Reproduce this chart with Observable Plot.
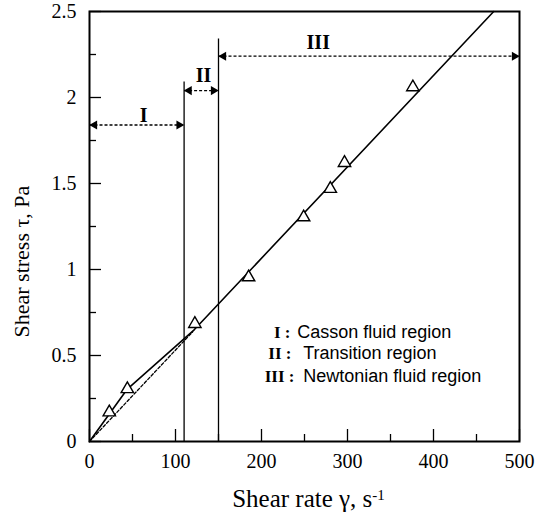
<!DOCTYPE html>
<html>
<head>
<meta charset="utf-8">
<script src="https://cdn.jsdelivr.net/npm/d3@7"></script>
<script src="https://cdn.jsdelivr.net/npm/@observablehq/plot@0.6"></script>
<style>
  html, body { margin: 0; padding: 0; background: #fff; }
</style>
</head>
<body>
<div id="chart"></div>
<script>
// Measured data points (triangles)
const shearRate = [23, 44, 122.5, 185, 249, 280, 296.5, 376];
const shearStress = [0.17, 0.305, 0.684, 0.955, 1.304, 1.469, 1.62, 2.06];

// Fitted solid curve (Casson -> Newtonian)
const fitRate = [0, 44, 122, 470];
const fitStress = [0, 0.305, 0.651, 2.5];

// Dashed Newtonian extension to origin
const dashRate = [0, 120];
const dashStress = [0, 0.638];

// Region boundaries
const boundaryRate = [110, 150];
const boundaryTop = [2.09, 2.34];

// Region arrows
const regionNames = ["I", "II", "III"];
const regionStart = [0, 110, 150];
const regionEnd = [110, 150, 500];
const regionArrowY = [1.84, 2.04, 2.24];
const regionLabelX = [63, 132.6, 266];
const regionLabelY = [1.895, 2.128, 2.32];

// Legend annotation
const legendNumerals = ["I :", "II :", "III :"];
const legendTexts = ["Casson fluid region", "Transition region", "Newtonian fluid region"];
const legendNumeralX = [233.7, 234.9, 238.4];
const legendTextX = [241.5, 248.5, 248.5];
const legendY = [0.634, 0.512, 0.378];

// Ticks
const xMajor = [0, 100, 200, 300, 400, 500];
const xMinor = [50, 150, 250, 350, 450];
const yMajor = [0, 0.5, 1, 1.5, 2, 2.5];
const yMinor = [0.25, 0.75, 1.25, 1.75, 2.25];
const yTickLabels = ["0", "0.5", "1", "1.5", "2", "2.5"];

const W = 542, H = 514;
const mL = 89, mR = 23, mT = 11, mB = 73;
const innerW = W - mL - mR, innerH = H - mT - mB;
const serif = "'Liberation Serif', 'Times New Roman', Times, serif";
const sans = "'Liberation Sans', Arial, Helvetica, sans-serif";

const points = shearRate.map((x, i) => ({x, y: shearStress[i]}));
const fit = fitRate.map((x, i) => ({x, y: fitStress[i]}));
const dash = dashRate.map((x, i) => ({x, y: dashStress[i]}));
const bounds = boundaryRate.map((x, i) => ({x, top: boundaryTop[i]}));
const regions = regionNames.map((name, i) => ({name, x1: regionStart[i], x2: regionEnd[i], y: regionArrowY[i], lx: regionLabelX[i], ly: regionLabelY[i]}));
const legend = legendNumerals.map((n, i) => ({n, t: legendTexts[i], nx: legendNumeralX[i], tx: legendTextX[i], y: legendY[i]}));

const chart = Plot.plot({
  width: W, height: H,
  marginLeft: mL, marginRight: mR, marginTop: mT, marginBottom: mB,
  x: {domain: [0, 500]},
  y: {domain: [0, 2.5]},
  style: {fontFamily: serif, background: "white", color: "black"},
  marks: [
    Plot.axisX({ticks: xMajor, tickSize: 0, tickPadding: 12, fontSize: 20, tickFormat: d => String(d), label: null}),
    Plot.axisY({ticks: yMajor, tickSize: 0, tickPadding: 13, fontSize: 20, tickFormat: d => yTickLabels[yMajor.indexOf(d)], label: null}),
    Plot.tickX(xMajor, {insetTop: innerH - 12, stroke: "black", strokeWidth: 1.3}),
    Plot.tickX(xMinor, {insetTop: innerH - 7, stroke: "black", strokeWidth: 1.3}),
    Plot.tickY(yMajor, {insetRight: innerW - 12, stroke: "black", strokeWidth: 1.3}),
    Plot.tickY(yMinor, {insetRight: innerW - 7, stroke: "black", strokeWidth: 1.3}),
    Plot.ruleX(bounds, {x: "x", y1: 0, y2: "top", stroke: "black", strokeWidth: 1.3}),
    Plot.line(dash, {x: "x", y: "y", stroke: "black", strokeWidth: 1.3, strokeDasharray: "3,2"}),
    Plot.line(fit, {x: "x", y: "y", stroke: "black", strokeWidth: 1.6}),
    Plot.link(regions, {x1: "x1", x2: "x2", y1: "y", y2: "y", stroke: "black", strokeWidth: 1.3, strokeDasharray: "3,2"}),
    Plot.dot(regions, {x: "x1", y: "y", symbol: "triangle", r: 3.4, rotate: -90, dx: 5, fill: "black", stroke: "none"}),
    Plot.dot(regions, {x: "x2", y: "y", symbol: "triangle", r: 3.4, rotate: 90, dx: -5, fill: "black", stroke: "none"}),
    Plot.text(regions, {x: "lx", y: "ly", text: "name", fontSize: 20, fontWeight: "bold", fill: "black"}),
    Plot.dot(points, {x: "x", y: "y", symbol: "triangle", r: 4.6, fill: "white", stroke: "black", strokeWidth: 1.4}),
    Plot.text(legend, {x: "nx", y: "y", text: "n", textAnchor: "end", fontSize: 17, fontWeight: "bold", fontFamily: serif, fill: "black"}),
    Plot.text(legend, {x: "tx", y: "y", text: "t", textAnchor: "start", fontSize: 18, fontFamily: sans, fill: "black"}),
    Plot.text(["Shear stress τ, Pa"], {frameAnchor: "middle", textAnchor: "start", lineAnchor: "middle", rotate: -90, dx: -(mL + innerW / 2 - 21), dy: 111, fontSize: 22, fill: "black"}),
    Plot.text(["Shear rate γ, s"], {frameAnchor: "bottom", textAnchor: "middle", lineAnchor: "middle", dx: 4, dy: 57.6, fontSize: 25, fill: "black"}),
    Plot.frame({stroke: "black", strokeWidth: 2})
  ]
});

d3.select(chart).selectAll("text").filter(function () { return this.textContent === "Shear rate γ, s"; })
  .append("tspan").attr("dy", "-0.45em").attr("font-size", "15").text("-1");

document.getElementById("chart").appendChild(chart);
</script>
</body>
</html>
